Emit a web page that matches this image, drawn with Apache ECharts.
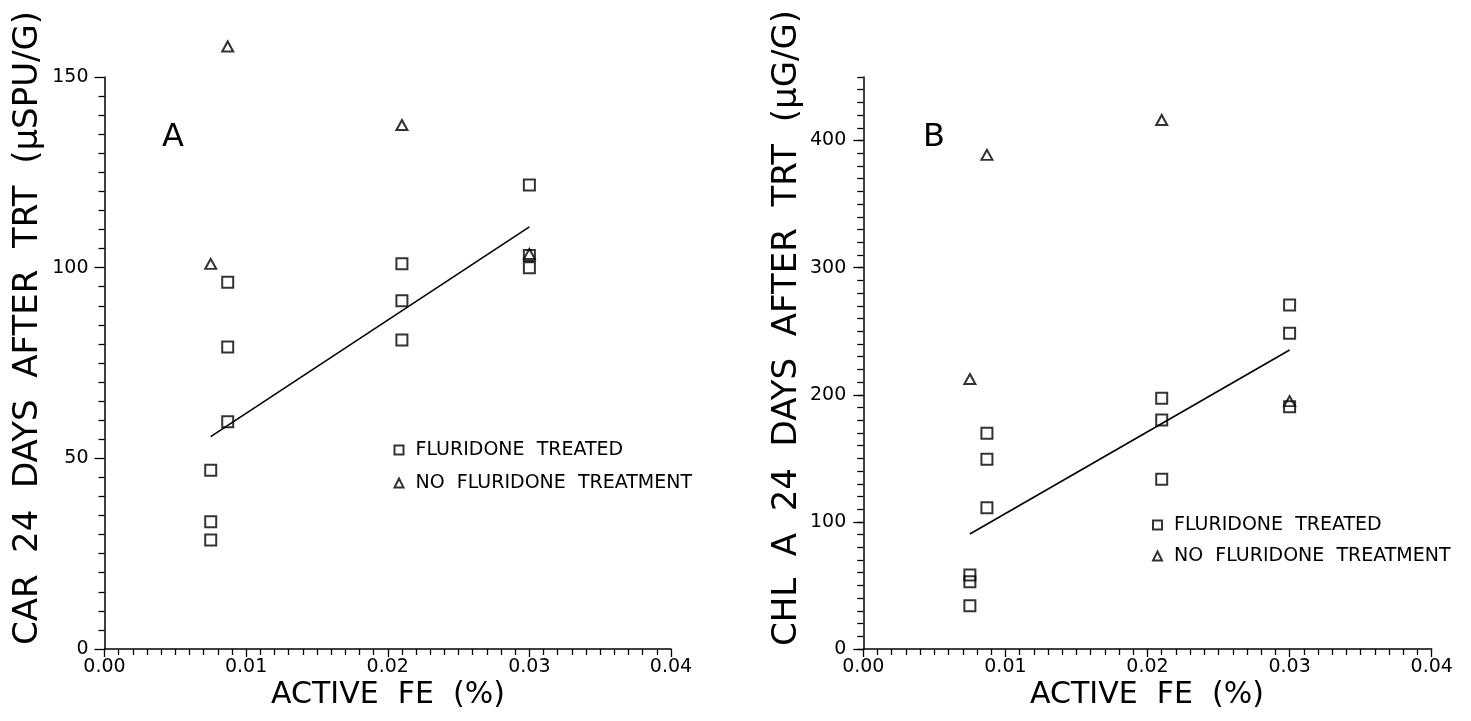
<!DOCTYPE html>
<html>
<head>
<meta charset="utf-8">
<title>Active Fe vs carotenoid and chlorophyll a</title>
<script src="https://cdn.jsdelivr.net/npm/echarts@6/dist/echarts.min.js"></script>
<style>
  html, body { margin: 0; padding: 0; background: #fff; }
  #chart { width: 1471px; height: 721px; }
</style>
</head>
<body>
<div id="chart"></div>
<script>
// Active Fe (%) at which the samples were taken
var xTicks = [0, 0.01, 0.02, 0.03, 0.04];

// Panel A: carotenoid 24 days after treatment (uSPU/g)
var carTreated = [
  [0.0075, 46.9], [0.0075, 33.4], [0.0075, 28.6],
  [0.0087, 96.2], [0.0087, 79.2], [0.0087, 59.6],
  [0.021, 101.0], [0.021, 91.3], [0.021, 81.0],
  [0.030, 121.7], [0.030, 103.2], [0.030, 100.0]
];
var carUntreated = [
  [0.0075, 101.0], [0.0087, 158.0], [0.021, 137.4], [0.030, 103.6]
];
var carFit = [[0.0075, 55.7], [0.030, 110.7]];
var yTicksCar = [0, 50, 100, 150];

// Panel B: chlorophyll a 24 days after treatment (ug/g)
var chlTreated = [
  [0.0075, 58.2], [0.0075, 53.0], [0.0075, 34.0],
  [0.0087, 169.7], [0.0087, 149.2], [0.0087, 111.2],
  [0.021, 197.2], [0.021, 180.2], [0.021, 133.5],
  [0.030, 270.6], [0.030, 248.4], [0.030, 190.6]
];
var chlUntreated = [
  [0.0075, 212.4], [0.0087, 388.7], [0.021, 416.2], [0.030, 195.0]
];
var chlFit = [[0.0075, 90.5], [0.030, 235.2]];
var yTicksChl = [0, 100, 200, 300, 400];
var yMaxChl = 450;

var seriesNames = ['FLURIDONE TREATED', 'NO FLURIDONE TREATMENT'];

var FONT = "'DejaVu Sans', 'Liberation Sans', sans-serif";
var INK = '#000';

function xAxisFor(gridIndex) {
  return {
    type: 'value', gridIndex: gridIndex, position: 'bottom',
    min: xTicks[0], max: xTicks[xTicks.length - 1], interval: xTicks[1] - xTicks[0],
    axisLine: { show: true, onZero: false, lineStyle: { color: INK, width: 1.5 } },
    axisTick: { show: true, inside: false, length: 8, lineStyle: { color: INK, width: 1.3 } },
    minorTick: { show: true, splitNumber: 10, length: 6, lineStyle: { color: INK, width: 1.3 } },
    splitLine: { show: false },
    minorSplitLine: { show: false },
    axisLabel: {
      margin: 9, color: INK, fontFamily: FONT, fontSize: 19,
      formatter: function (v) { return v.toFixed(2); }
    }
  };
}

function scatterStyle(symbol, size) {
  return {
    type: 'scatter', symbol: symbol, symbolSize: size, clip: false,
    itemStyle: { color: 'transparent', borderColor: INK, borderWidth: 2 }
  };
}

function fitLine(data, xi, yi) {
  return {
    type: 'line', xAxisIndex: xi, yAxisIndex: yi, data: data,
    showSymbol: false, symbol: 'none', silent: true,
    lineStyle: { color: INK, width: 1.6 }
  };
}

function legendAt(left, top, gap) {
  return {
    left: left, top: top, orient: 'vertical',
    data: seriesNames, itemWidth: 9, itemHeight: 9, itemGap: gap,
    selectedMode: false,
    formatter: function (n) { return n.split(' ').join('  '); },
    textStyle: { color: INK, fontFamily: FONT, fontSize: 19, lineHeight: 20, padding: [0, 0, 0, 7] }
  };
}

function textEl(x, y, text, size, rot) {
  return {
    type: 'text', x: x, y: y, rotation: rot || 0, silent: true,
    style: {
      text: text, fill: INK, fontFamily: FONT, fontSize: size,
      align: 'center', verticalAlign: 'middle'
    }
  };
}

var chart = echarts.init(document.getElementById('chart'));
chart.setOption({
  animation: false,
  backgroundColor: '#fff',
  grid: [
    { left: 104.5, top: 77, width: 566.5, height: 572, outerBoundsMode: 'none' },
    { left: 863.3, top: 77, width: 568.4, height: 572, outerBoundsMode: 'none' }
  ],
  xAxis: [xAxisFor(0), xAxisFor(1)],
  yAxis: [
    {
      type: 'value', gridIndex: 0, position: 'left',
      min: yTicksCar[0], max: yTicksCar[yTicksCar.length - 1], interval: yTicksCar[1] - yTicksCar[0],
      axisLine: { show: true, onZero: false, lineStyle: { color: INK, width: 1.5 } },
      axisTick: { show: true, length: 10, lineStyle: { color: INK, width: 1.3 } },
      minorTick: { show: true, splitNumber: 10, length: 6, lineStyle: { color: INK, width: 1.3 } },
      splitLine: { show: false }, minorSplitLine: { show: false },
      axisLabel: { margin: 16, color: INK, fontFamily: FONT, fontSize: 19 }
    },
    {
      // fine ticks every 10 ug/g
      type: 'value', gridIndex: 1, position: 'left', min: 0, max: yMaxChl, interval: 10,
      axisLine: { show: true, onZero: false, lineStyle: { color: INK, width: 1.5 } },
      axisTick: { show: true, length: 6, lineStyle: { color: INK, width: 1.3 } },
      splitLine: { show: false },
      axisLabel: { show: false }
    },
    {
      // labelled ticks every 100 ug/g
      type: 'value', gridIndex: 1, position: 'left', offset: 0, min: 0, max: yMaxChl,
      axisLine: { show: false },
      axisTick: { show: true, length: 10, customValues: yTicksChl, lineStyle: { color: INK, width: 1.3 } },
      splitLine: { show: false },
      axisLabel: { margin: 17, color: INK, fontFamily: FONT, fontSize: 19, customValues: yTicksChl }
    }
  ],
  legend: [legendAt(388.5, 435, 13), legendAt(1147, 510, 11)],
  series: [
    Object.assign(scatterStyle('rect', [11, 11]), { name: seriesNames[0], xAxisIndex: 0, yAxisIndex: 0, data: carTreated }),
    Object.assign(scatterStyle('triangle', [11, 10]), { name: seriesNames[1], xAxisIndex: 0, yAxisIndex: 0, data: carUntreated }),
    fitLine(carFit, 0, 0),
    Object.assign(scatterStyle('rect', [11, 11]), { name: seriesNames[0], xAxisIndex: 1, yAxisIndex: 1, data: chlTreated }),
    Object.assign(scatterStyle('triangle', [11, 10]), { name: seriesNames[1], xAxisIndex: 1, yAxisIndex: 1, data: chlUntreated }),
    fitLine(chlFit, 1, 1)
  ],
  graphic: [
    textEl(28, 328, 'CAR  24  DAYS  AFTER  TRT  (\u03BCSPU/G)', 34, Math.PI / 2),
    textEl(787, 328, 'CHL  A  24  DAYS  AFTER  TRT  (\u03BCG/G)', 34, Math.PI / 2),
    textEl(388, 695, 'ACTIVE  FE  (%)', 30),
    textEl(1147, 695, 'ACTIVE  FE  (%)', 30),
    textEl(173, 138, 'A', 32),
    textEl(934, 138, 'B', 32)
  ]
});
</script>
</body>
</html>
